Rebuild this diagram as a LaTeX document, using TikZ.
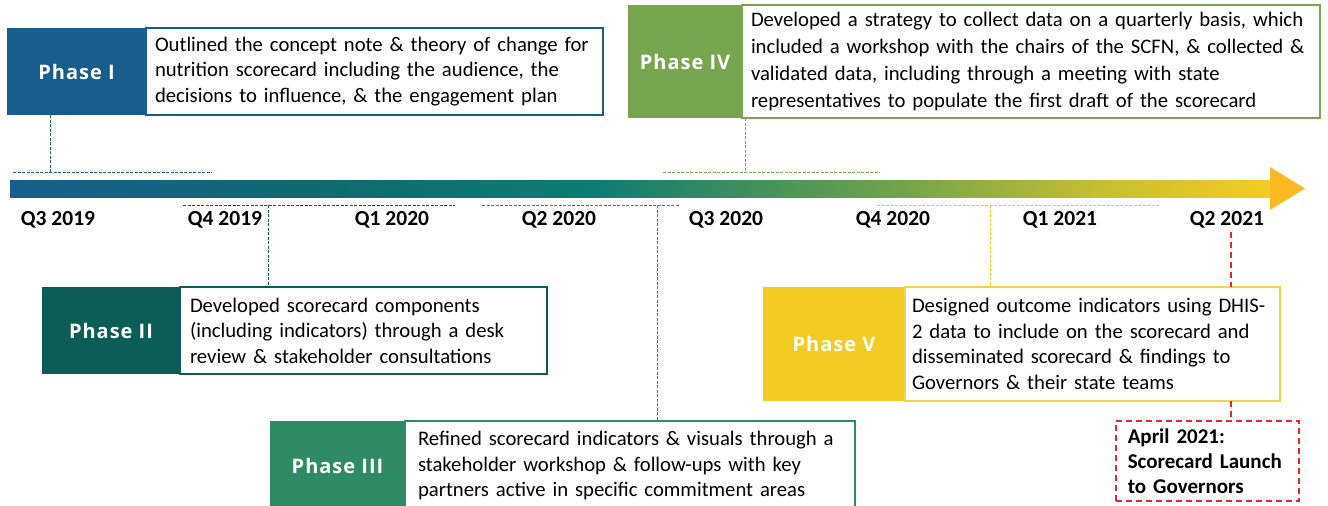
\documentclass[tikz,border=0pt]{standalone}
\usepackage{fontspec}
\setmainfont{Carlito}
\newfontfamily\phasefamily[LetterSpace=5]{Open Sans}
\usetikzlibrary{calc,positioning}
\usepackage{xcolor}

\definecolor{phaseone}{HTML}{175E8E}
\definecolor{phasetwo}{HTML}{0B5E55}
\definecolor{phasethree}{HTML}{2E8B62}
\definecolor{phasefour}{HTML}{78A650}
\definecolor{phasefive}{HTML}{F2CC22}
\definecolor{phasefiveline}{HTML}{F5D245}
\definecolor{launchred}{HTML}{E8272A}
\definecolor{tipyellow}{HTML}{FBBA22}
\definecolor{barteal}{HTML}{0D7C72}
\definecolor{barmid}{HTML}{10696F}
\definecolor{bargreen}{HTML}{6FA24B}
\definecolor{barolive}{HTML}{C4BE32}
\definecolor{baryellow}{HTML}{F6CB22}

\pgfdeclarehorizontalshading{timeline}{100bp}{color(0bp)=(phaseone); color(25bp)=(phaseone);
  color(37bp)=(barmid); color(48bp)=(barteal); color(60bp)=(bargreen);
  color(68bp)=(barolive); color(75bp)=(baryellow); color(100bp)=(baryellow)}

\tikzset{
  phase/.style={fill=#1, text=white, inner sep=0pt, outer sep=0pt,
    font=\phasefamily\bfseries\fontsize{20}{24}\selectfont},
  desc/.style={draw=#1, fill=white, line width=1.2pt, inner xsep=10pt, inner ysep=0pt,
    outer sep=0pt, align=left, font=\fontsize{20.7}{25.5}\selectfont},
  quarter/.style={font=\bfseries\fontsize{21.5}{25}\selectfont},
  link/.style={draw=#1, line width=1pt, dash pattern=on 3pt off 1.5pt},
  launchlink/.style={draw=launchred, line width=1.5pt, dash pattern=on 6pt off 4pt}
}

\begin{document}
\begin{tikzpicture}[x=1pt, y=-1pt]
  \useasboundingbox (0,0) rectangle (1328,506);

  % timeline
  \shade[shading=timeline] (10,180) rectangle (1272,197);
  \fill[tipyellow] (1270,167) -- (1305,188.5) -- (1270,210) -- cycle;

  \foreach \q [count=\i] in {Q3 2019, Q4 2019, Q1 2020, Q2 2020, Q3 2020, Q4 2020, Q1 2021, Q2 2021}
    \node[quarter] (q\i) at ({58+167*(\i-1)},220) {\q};

  % phases
  \node[phase=phaseone, minimum width=139, minimum height=87, anchor=north west] (ph1) at (7,28) {Phase I};
  \node[desc=phaseone, text width=439, minimum height=87, inner xsep=9pt, right=0pt of ph1] (ph1txt)
    {Outlined the concept note \& theory of change for\\ nutrition scorecard including the audience, the\\ decisions to influence, \& the engagement plan};

  \node[phase=phasetwo, minimum width=138, minimum height=87, anchor=north west] (ph2) at (42,287) {Phase II};
  \node[desc=phasetwo, text width=347, minimum height=87, right=0pt of ph2] (ph2txt)
    {Developed scorecard components\\ (including indicators) through a desk\\ review \& stakeholder consultations};

  \node[phase=phasethree, minimum width=135, minimum height=89, anchor=north west] (ph3) at (270,421) {Phase III};
  \node[desc=phasethree, text width=424, minimum height=89, inner xsep=13pt, right=0pt of ph3] (ph3txt)
    {Refined scorecard indicators \& visuals through a\\ stakeholder workshop \& follow-ups with key\\ partners active in specific commitment areas};

  \node[phase=phasefour, minimum width=114, minimum height=113, anchor=north west] (ph4) at (628,5) {Phase IV};
  \node[desc=phasefour, text width=560, minimum height=113, inner xsep=9pt,
    font=\fontsize{20.7}{27}\selectfont, right=0pt of ph4] (ph4txt)
    {Developed a strategy to collect data on a quarterly basis, which\\ included a workshop with the chairs of the SCFN, \& collected \&\\ validated data, including through a meeting with state\\ representatives to populate the first draft of the scorecard};

  \node[phase=phasefive, minimum width=142, minimum height=114, anchor=north west] (ph5) at (763,287) {Phase V};
  \node[desc=phasefiveline, text width=361, minimum height=114, inner xsep=7pt, right=0pt of ph5] (ph5txt)
    {Designed outcome indicators using DHIS-\\ 2 data to include on the scorecard and\\ disseminated scorecard \& findings to\\ Governors \& their state teams};

  \node[draw=launchred, line width=1.5pt, dash pattern=on 6pt off 4pt, minimum width=183, minimum height=80,
    text width=159, inner xsep=12pt, align=left, anchor=north west,
    font=\bfseries\fontsize{21}{25}\selectfont] (launch) at (1115,420)
    {April 2021:\\ Scorecard Launch\\ to Governors};

  % period markers
  \foreach \a/\b/\y/\c in {13/212/172/phaseone, 663/880/172/phasefour, 183/455/205/phasetwo,
                           482/680/205/phasethree, 877/1160/205/phasefive}
    \draw[link=\c] (\a,\y) -- (\b,\y);

  \coordinate (m1) at (50,172);
  \coordinate (m2) at (268,205);
  \coordinate (m3) at (657,205);
  \coordinate (m4) at (745,172);
  \coordinate (m5) at (990,205);
  \coordinate (m6) at (1231,205);

  \draw[link=phaseone] (m1 |- ph1.south) -- (m1);
  \draw[link=phasetwo] (m2) -- (m2 |- ph2txt.north);
  \draw[link=phasethree] (m3) -- (m3 |- ph3txt.north);
  \draw[link=phasefour] (m4 |- ph4txt.south) -- (m4);
  \draw[link=phasefive] (m5) -- (m5 |- ph5txt.north);
  \draw[launchlink] (m6 |- q8.south) -- (m6 |- ph5txt.north);
  \draw[launchlink] (m6 |- ph5txt.south) -- (m6 |- launch.north);
\end{tikzpicture}
\end{document}
